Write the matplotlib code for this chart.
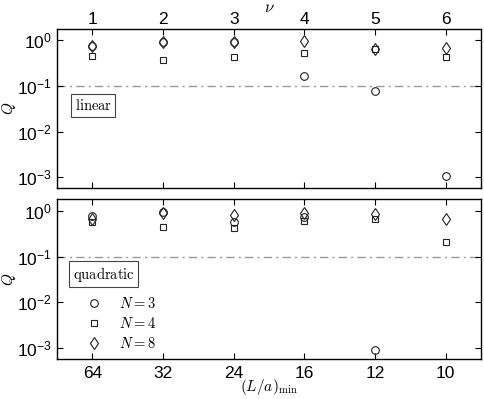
import numpy as np
import matplotlib
matplotlib.use("Agg")
import matplotlib.pyplot as plt
from matplotlib.ticker import FixedLocator, FixedFormatter, NullLocator

plt.rcParams['font.family'] = ['Liberation Sans', 'DejaVu Sans']
plt.rcParams['mathtext.fontset'] = 'custom'
plt.rcParams['mathtext.rm'] = 'Liberation Sans'
plt.rcParams['mathtext.it'] = 'Liberation Sans:italic'

# x positions (nu index)
nu = [1, 2, 3, 4, 5, 6]
La_min = ['64', '32', '24', '16', '12', '10']

# linear fits: Q values
lin_N3 = [0.74, 0.90, 0.92, 0.16, 0.075, 0.00105]
lin_N4 = [0.45, 0.36, 0.43, 0.51, 0.62, 0.42]
lin_N8 = [0.72, 0.88, 0.90, 0.95, 0.63, 0.68]

# quadratic fits: Q values (N=3 missing at last point)
quad_N3 = [0.76, 0.93, 0.58, 0.72, 0.00087, np.nan]
quad_N4 = [0.56, 0.45, 0.43, 0.60, 0.65, 0.21]
quad_N8 = [0.68, 0.92, 0.80, 0.88, 0.85, 0.66]

threshold = 0.1

fig = plt.figure(figsize=(4.84, 3.99), dpi=100)
ax1 = fig.add_axes([0.118, 0.528, 0.876, 0.399])
ax2 = fig.add_axes([0.118, 0.100, 0.876, 0.401])

mk = dict(linestyle='none', markerfacecolor='none', markeredgecolor='#222222', markeredgewidth=0.8)

def style(ax, ylo, yhi):
    ax.set_yscale('log')
    ax.set_xlim(0.5, 6.5)
    ax.set_ylim(ylo, yhi)
    ax.yaxis.set_major_locator(FixedLocator([1e-3, 1e-2, 1e-1, 1e0]))
    ax.yaxis.set_minor_locator(NullLocator())
    ax.yaxis.set_major_formatter(FixedFormatter([r'10$^{-3}$', r'10$^{-2}$', r'10$^{-1}$', r'10$^{0}$']))
    ax.set_xticks(nu)
    ax.tick_params(direction='in', length=4, width=0.8, labelsize=12.5, pad=4,
                   top=True, right=True, bottom=True, left=True)
    for s in ax.spines.values():
        s.set_linewidth(1.0)
    ax.axhline(threshold, color='#999999', linestyle='-.', linewidth=1.0, dashes=(6, 3, 1.5, 3), zorder=0)
    yl = ax.set_ylabel(r'$Q$', fontsize=11)
    yl.set_math_fontfamily('cm')
    ax.yaxis.set_label_coords(-0.092, 0.5)

for ax, (a, b, c) in ((ax1, (lin_N3, lin_N4, lin_N8)), (ax2, (quad_N3, quad_N4, quad_N8))):
    ax.plot(nu, a, marker='o', markersize=5.5, label=r'$N = 3$', **mk)
    ax.plot(nu, b, marker='s', markersize=4.5, label=r'$N = 4$', **mk)
    ax.plot(nu, c, marker='d', markersize=6.5, label=r'$N = 8$', **mk)

style(ax1, 10**-3.24, 10**0.234)
style(ax2, 10**-3.25, 10**0.26)

ax1.xaxis.tick_top()
ax1.tick_params(axis='x', which='both', bottom=True, top=True, labelbottom=False, labeltop=True, pad=1.5)
ax1.xaxis.set_label_position('top')
xl = ax1.set_xlabel(r'$\nu$', fontsize=12, labelpad=0)
xl.set_math_fontfamily('cm')

ax2.set_xticklabels(La_min)
ax2.tick_params(axis='x', pad=5)
xl2 = ax2.set_xlabel(r'$(L/a)_{\min}$', fontsize=11, labelpad=-3)
xl2.set_math_fontfamily('cm')

bbox = dict(boxstyle='square,pad=0.25', facecolor='white', edgecolor='#444444', linewidth=0.8)
t1 = ax1.text(0.085, 0.52, r'$\mathrm{linear}$', transform=ax1.transAxes, fontsize=10.5,
              ha='center', va='center', bbox=bbox)
t1.set_math_fontfamily('cm')
t2 = ax2.text(0.11, 0.53, r'$\mathrm{quadratic}$', transform=ax2.transAxes, fontsize=10.5,
              ha='center', va='center', bbox=bbox)
t2.set_math_fontfamily('cm')

leg = ax2.legend(loc='lower left', bbox_to_anchor=(0.04, -0.005), frameon=False, fontsize=10.5,
                 handlelength=1.6, handletextpad=0.9, labelspacing=0.35, borderaxespad=0.2)
for t in leg.get_texts():
    t.set_math_fontfamily('cm')

fig.savefig('out.png', dpi=100)
